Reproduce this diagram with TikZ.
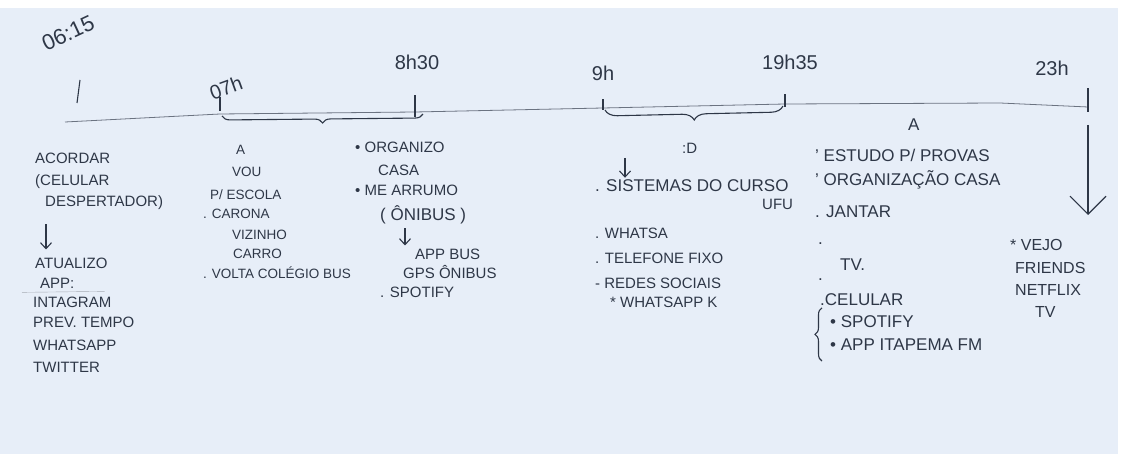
\documentclass[tikz,border=0pt]{standalone}
\usepackage{fontspec}
\setmainfont{Liberation Sans}
\usepackage{tikz}
\usetikzlibrary{arrows.meta}
\usetikzlibrary{decorations.pathreplacing}
\tikzset{>={Straight Barb[length=6pt,width=11pt]}}
\definecolor{paper}{HTML}{E7EEF8}
\definecolor{ink}{HTML}{2E3747}
\definecolor{pencil}{HTML}{6B7381}
\tikzset{
  note/.style={anchor=west, inner sep=0pt, text=ink, font=\fontsize{15}{17}\selectfont},
  big note/.style={note, font=\fontsize{17}{19}\selectfont},
  small note/.style={note, font=\fontsize{13.5}{15}\selectfont},
  hour/.style={inner sep=0pt, text=ink, font=\fontsize{20}{22}\selectfont},
  pen/.style={ink, line width=1.1pt}
}

\begin{document}
\begin{tikzpicture}[x=1pt, y=-1pt]
            \useasboundingbox (0,0) rectangle (1127,454);
            \fill[white] (0,0) rectangle (1127,454);
            \fill[paper] (0,8) rectangle (1118,454);
            % timeline
            \draw[pencil, thick] (65,122) coordinate (S) -- (220,114) coordinate (T07) -- (415,112) coordinate (T0830) -- (603,108) coordinate (T09) -- (785,104) coordinate (T1935) -- (1000,103) -- (1088,107) coordinate (T23);
            \coordinate (T0615) at (77,103);
            \draw[pen] (T0615) -- ++(3,-23);
            \draw[pen] ([shift={(0,-3)}]T07) -- ++(0,-14);
            \draw[pen] ([shift={(0,5)}]T0830) -- ++(0,-22);
            \draw[pen] ([shift={(0,2)}]T09) -- ++(0,-11);
            \draw[pen] ([shift={(0,3)}]T1935) -- ++(0,-13);
            \draw[pen] ([shift={(0,5)}]T23) -- ++(0,-24);
            \node[hour, rotate=25, font=\fontsize{22}{24}\selectfont] (h0615) at (68,33) {06:15};
            \node[hour, rotate=20] (h07) at (226,88) {07h};
            \node[hour] (h0830) at (417,62) {8h30};
            \node[hour] (h09) at (603,73) {9h};
            \node[hour] (h1935) at (790,62) {19h35};
            \node[hour] (h23) at (1052,68) {23h};
            \draw[pen, decorate, decoration={brace, mirror, amplitude=8pt}] ([shift={(2,2)}]T07) -- ([shift={(8,2)}]T0830);
            \draw[pen, decorate, decoration={brace, mirror, amplitude=12pt}] ([shift={(2,2)}]T09) -- ([shift={(-2,2)}]T1935);
            % 06:15
            \node[note] (acordar) at (35,158) {ACORDAR};
            \node[note] (celular) at (35,182) {(CELULAR};
            \node[note] (desp) at (45,203) {DESPERTADOR)};
            \node[note] (atual) at (35,263) {ATUALIZO};
            \node[note] (app) at (40,283) {APP:};
            \node[note] (insta) at (33,302) {INTAGRAM};
            \node[note] (prev) at (33,322) {PREV. TEMPO};
            \node[note] (whats) at (33,345) {WHATSAPP};
            \node[note] (twitter) at (33,367) {TWITTER};
            \draw[pen, ->] ([shift={(1,14)}]desp.south west) -- ([shift={(11,-8)}]atual.north west);
            \draw[pencil!60, thin] ([shift={(-18,4)}]app.south west) -- ([shift={(30,3)}]app.south east);
            % 07h
            \node[small note] (a1) at (236,150) {A};
            \node[small note] (vou) at (232,172) {VOU};
            \node[small note] (escola) at (210,195) {P/ ESCOLA};
            \node[small note] (carona) at (203,214) {. CARONA};
            \node[small note] (vizinho) at (232,235) {VIZINHO};
            \node[small note] (carro) at (233,254) {CARRO};
            \node[small note] (volta) at (203,273) {. VOLTA COLÉGIO BUS};
            % 8h30
            \node[note] (organizo) at (355,147) {• ORGANIZO};
            \node[note] (casa) at (378,170) {CASA};
            \node[note] (arrumo) at (355,190) {• ME ARRUMO};
            \node[big note] (onibus) at (380,215) {( ÔNIBUS )};
            \node[note] (appbus) at (415,254) {APP BUS};
            \node[note] (gps) at (403,272) {GPS ÔNIBUS};
            \node[note] (spotify1) at (380,292) {. SPOTIFY};
            \draw[pen, ->] ([shift={(25,4)}]onibus.south west) -- ([shift={(-10,-3)}]appbus.north west);
            % 9h - 19h35
            \node[note] (smile) at (682,148) {:D};
            \node[big note] (sistemas) at (595,186) {. SISTEMAS DO CURSO};
            \node[note] (ufu) at (762,204) {UFU};
            \node[note] (whatsa) at (595,233) {. WHATSA};
            \node[note] (fixo) at (595,258) {. TELEFONE FIXO};
            \node[note] (redes) at (595,283) {- REDES SOCIAIS};
            \node[note] (zap) at (610,302) {* WHATSAPP K};
            \draw[pen, ->] ([shift={(30,-22)}]sistemas.north west) -- ([shift={(30,-2)}]sistemas.north west);
            % 19h35 - 23h
            \node[big note] (a2) at (908,125) {A};
            \node[big note] (estudo) at (815,155) {' ESTUDO P/ PROVAS};
            \node[big note] (organiza) at (815,180) {' ORGANIZAÇÃO CASA};
            \node[big note] (jantar) at (815,212) {. JANTAR};
            \node[big note] (dot1) at (818,244) {.};
            \node[big note] (tv1) at (840,265) {TV.};
            \node[big note] (dot2) at (818,280) {.};
            \node[big note] (cel) at (820,300) {.CELULAR};
            \node[big note] (spotify2) at (830,322) {• SPOTIFY};
            \node[big note] (itapema) at (830,345) {• APP ITAPEMA FM};
            \draw[pen, decorate, decoration={brace, amplitude=7pt}] ([shift={(-8,10)}]itapema.south west) -- ([shift={(-8,-8)}]spotify2.north west);
            % 23h
            \node[note, font=\fontsize{16}{18}\selectfont] (vejo) at (1010,245) {* VEJO};
            \node[note, font=\fontsize{16}{18}\selectfont] (friends) at (1015,268) {FRIENDS};
            \node[note, font=\fontsize{16}{18}\selectfont] (netflix) at (1015,290) {NETFLIX};
            \node[note, font=\fontsize{16}{18}\selectfont] (tv2) at (1035,312) {TV};
            \draw[pen, -{Straight Barb[length=18pt,width=36pt]}] ([shift={(0,18)}]T23) -- ([shift={(0,108)}]T23);
        \end{tikzpicture}
\end{document}
